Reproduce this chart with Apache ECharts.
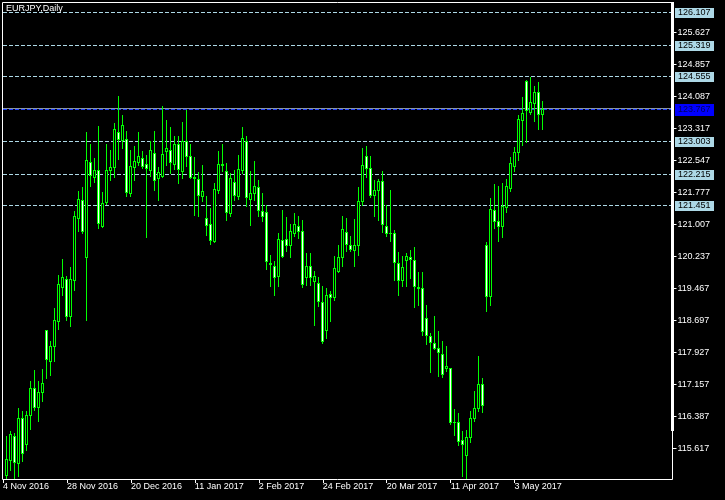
<!DOCTYPE html>
<html>
<head>
<meta charset="utf-8">
<script src="https://cdn.jsdelivr.net/npm/echarts@6/dist/echarts.min.js"></script>
<style>html,body{margin:0;padding:0;background:#000}#chart{width:725px;height:500px}</style>
</head>
<body>
<div id="chart"></div>
<script>
// ---- data ----
const chartTitle = 'EURJPY,Daily';
const startDate = [2016, 10, 4]; // 4 Nov 2016 (first bar slot)
const xTickLabels = ['4 Nov 2016','28 Nov 2016','20 Dec 2016','11 Jan 2017','2 Feb 2017','24 Feb 2017','20 Mar 2017','11 Apr 2017','3 May 2017'];
const yTicks = [125.627,124.857,124.087,123.317,122.547,121.777,121.007,120.237,119.467,118.697,117.927,117.157,116.387,115.617];
const levelLines = [126.107,125.319,124.555,123.003,122.215,121.451];
const bidPrice = 123.767;

const openP = [null,
114.959,115.320,115.898,115.256,116.339,115.713,116.403,117.061,116.595,116.956,
118.464,117.702,118.063,118.681,119.491,119.691,118.785,119.651,121.151,121.592,
120.213,122.499,122.138,122.314,120.951,121.528,122.298,122.378,123.220,123.036,
123.052,121.753,122.370,122.491,122.595,122.450,122.314,122.715,122.114,122.170,
122.755,122.795,122.458,122.940,122.274,122.996,122.651,122.138,122.089,121.688,
121.151,121.007,120.606,121.833,122.458,122.290,121.271,122.017,121.672,122.298,
123.012,121.616,121.753,121.897,121.311,121.295,120.036,119.988,119.747,120.614,
120.646,120.493,120.790,120.967,120.830,119.731,120.004,119.627,119.587,119.130,
118.448,119.322,119.242,119.884,120.205,120.806,120.509,120.389,120.493,121.552,
122.651,122.354,121.696,121.817,122.049,120.967,120.790,120.790,120.068,119.651,
120.132,120.213,120.132,119.491,119.467,118.745,118.320,118.143,118.023,117.879,
117.534,117.542,116.250,116.242,115.817,115.440,115.881,116.339,116.579,117.157,
120.509,119.280,121.351,121.087,120.950,121.407,121.873,122.394,122.731,123.517,
124.455,123.693,123.918,124.183,123.653];
const highP = [null,
115.913,116.034,115.978,116.579,116.499,116.515,117.237,117.502,117.237,117.526,
118.464,118.183,118.986,119.788,120.173,119.763,119.972,121.328,121.809,121.897,
123.212,122.940,122.595,123.357,121.769,122.940,122.795,123.437,124.095,123.637,
123.236,122.795,122.892,123.212,122.771,122.675,123.012,123.252,122.378,123.854,
123.517,123.333,123.132,123.132,123.453,123.742,122.940,122.619,122.250,122.434,
121.672,121.392,121.993,122.755,122.940,122.474,122.234,122.314,122.675,123.333,
123.132,122.274,122.531,122.057,121.753,121.472,120.253,120.108,120.790,121.352,
121.175,121.007,121.271,121.191,121.111,120.309,120.309,119.868,119.731,119.507,
119.467,119.403,120.229,120.509,121.191,121.151,120.726,121.127,121.889,122.835,
122.892,122.635,122.073,122.089,122.274,121.472,121.833,120.854,120.325,120.229,
120.309,120.389,120.453,119.860,119.844,119.066,118.384,118.801,118.440,118.183,
118.079,117.542,116.563,116.467,116.034,116.058,116.515,116.996,117.838,117.301,
120.565,121.633,121.977,121.913,121.993,122.097,122.610,122.859,123.637,124.054,
124.470,124.535,124.335,124.423,123.958];
const lowP = [null,
114.895,115.096,114.895,114.951,115.296,115.561,116.082,116.523,116.258,116.740,
117.301,117.381,117.702,118.488,119.290,118.689,118.544,119.427,120.830,120.800,
118.689,121.913,122.009,120.910,120.930,121.500,122.057,122.130,122.571,122.835,
121.672,121.688,122.057,122.434,122.354,120.686,122.170,121.817,121.576,122.138,
122.434,122.234,122.338,121.993,122.114,122.394,122.114,121.231,121.191,121.552,
120.750,120.533,120.566,121.753,122.274,121.111,121.191,121.592,121.608,122.234,
121.432,120.991,121.576,121.191,121.071,119.932,119.523,119.306,119.507,120.210,
120.349,120.205,120.710,120.670,119.491,119.547,119.547,118.585,119.026,118.150,
118.264,118.665,119.186,119.844,120.004,120.349,120.365,120.004,120.269,121.472,
122.138,121.656,121.191,121.111,120.806,120.710,120.590,119.667,119.306,119.523,
119.523,119.707,119.002,119.066,118.344,118.127,117.437,118.007,117.357,117.317,
117.461,116.202,115.922,115.697,114.935,114.879,115.753,116.258,116.515,116.475,
118.904,119.049,120.910,120.589,120.686,121.287,121.792,122.290,122.554,122.915,
122.971,123.653,123.477,123.300,123.300];
const closeP = [null,
115.352,115.954,115.280,116.339,115.497,116.419,117.061,116.595,116.964,117.181,
117.758,118.079,118.705,119.563,119.731,118.785,119.691,121.191,121.608,120.830,
122.555,122.194,122.314,121.031,121.512,122.314,122.378,123.293,123.052,123.389,
121.769,122.410,122.531,122.651,122.394,122.346,122.795,122.057,122.250,122.691,
122.835,122.491,122.940,122.330,122.996,122.635,122.138,122.114,121.713,121.809,
120.991,120.630,121.857,122.458,122.426,121.287,122.114,121.713,122.330,123.076,
121.648,121.753,121.929,121.336,121.191,120.108,120.068,119.723,120.646,120.229,
120.509,120.846,121.007,120.846,119.563,120.004,119.731,119.747,119.146,118.183,
119.290,119.250,119.948,120.213,120.886,120.525,120.413,120.509,121.568,122.434,
122.354,121.696,121.833,122.049,121.007,120.790,120.782,120.084,119.651,119.972,
120.245,120.165,119.507,119.459,118.424,118.328,118.159,118.023,117.919,117.397,
117.582,116.234,116.234,115.777,115.713,115.881,116.339,116.579,117.157,116.643,
119.265,121.368,121.071,120.950,121.431,121.929,122.474,122.739,123.533,123.677,
123.741,123.934,124.183,123.653,123.767];

// ---- categories (weekday bar slots) ----
const monthNames = ['Jan','Feb','Mar','Apr','May','Jun','Jul','Aug','Sep','Oct','Nov','Dec'];
const totalSlots = 168;
const categories = [];
let d = new Date(Date.UTC(startDate[0], startDate[1], startDate[2]));
while (categories.length < openP.length) {
  const wd = d.getUTCDay();
  if (wd !== 0 && wd !== 6) categories.push(d.getUTCDate() + ' ' + monthNames[d.getUTCMonth()] + ' ' + d.getUTCFullYear());
  d = new Date(d.getTime() + 86400000);
}
while (categories.length < totalSlots) categories.push('');

const candleData = [];
openP.forEach((o, i) => { if (o != null) candleData.push([i, o, closeP[i], lowP[i], highP[i]]); });
const levelData = levelLines.map(v => [0, v, 0]);
levelData.push([0, bidPrice, 1]);

const FONT = 'Liberation Sans';
const GREEN = '#00ff00';
const LIGHTBLUE = '#add8e6';
const showTick = (idx, val) => xTickLabels.indexOf(val) >= 0;

function renderCandle(params, api) {
  const i = api.value(0);
  const o = api.value(1), c = api.value(2), l = api.value(3), h = api.value(4);
  const cx = Math.floor(api.coord([i, o])[0]);
  const row = p => Math.floor(api.coord([i, p])[1] + 0.25);
  const yo = row(o), yc = row(c), yl = row(l), yh = row(h);
  const top = Math.min(yo, yc), bot = Math.max(yo, yc);
  const bull = c >= o;
  const children = [
    { type: 'rect', shape: { x: cx, y: yh, width: 1, height: yl - yh + 1 }, style: { fill: GREEN } },
    { type: 'rect', shape: { x: cx - 1, y: top, width: 3, height: bot - top + 1 }, style: { fill: GREEN } }
  ];
  if (bot - top >= 2) {
    children.push({ type: 'rect', shape: { x: cx, y: top + 1, width: 1, height: bot - top - 1 },
      style: { fill: bull ? '#000000' : '#ffffff' } });
  }
  return { type: 'group', children };
}

function renderLevel(params, api) {
  const v = api.value(1);
  const isBid = api.value(2) === 1;
  const cs = params.coordSys;
  const r = Math.floor(api.coord([0, v])[1]);
  const x0 = cs.x + 2, x1 = cs.x + cs.width;
  const children = [];
  if (isBid) {
    children.push({ type: 'line', shape: { x1: x0, y1: r - 0.5, x2: x1, y2: r - 0.5 },
      style: { stroke: '#8a96a8', lineWidth: 1 } });
    children.push({ type: 'line', shape: { x1: x0, y1: r + 0.5, x2: x1, y2: r + 0.5 },
      style: { stroke: '#1f3fff', lineWidth: 1, lineDash: [4, 2] } });
  } else {
    children.push({ type: 'line', shape: { x1: x0, y1: r + 0.5, x2: x1, y2: r + 0.5 },
      style: { stroke: LIGHTBLUE, lineWidth: 1, lineDash: [4, 2] } });
  }
  const bx = Math.round(x1) + 2;
  children.push({ type: 'rect', shape: { x: bx, y: r - 4 - (isBid ? 1 : 0), width: 39, height: isBid ? 12 : 10 },
    style: { fill: isBid ? '#0000ff' : LIGHTBLUE } });
  children.push({ type: 'text', style: { x: bx + 3, y: r + 1, text: v.toFixed(3), fill: isBid ? '#000060' : '#000000',
    font: '9px ' + FONT, verticalAlign: 'middle', align: 'left' } });
  return { type: 'group', children };
}

const chart = echarts.init(document.getElementById('chart'), null, { renderer: 'canvas' });
chart.setOption({
  backgroundColor: '#000000',
  animation: false,
  title: { text: chartTitle, left: 6, top: 4, padding: 0,
    textStyle: { color: '#ffffff', fontSize: 9, fontWeight: 'normal', fontFamily: FONT } },
  grid: { left: 0.5, right: 52.5, top: 2, bottom: 21 },
  xAxis: {
    type: 'category', data: categories, boundaryGap: true,
    axisLine: { show: false },
    axisTick: { show: true, alignWithLabel: true, interval: showTick, length: 4, lineStyle: { color: '#ffffff' } },
    axisLabel: { show: true, interval: showTick, align: 'left', color: '#ffffff', fontSize: 9, fontFamily: FONT, margin: 3 },
    splitLine: { show: false }
  },
  yAxis: {
    type: 'value', position: 'right', min: 114.878, max: 126.356, scale: true,
    axisLine: { show: false },
    splitLine: { show: false },
    axisTick: { show: true, customValues: yTicks, length: 4, lineStyle: { color: '#ffffff' } },
    axisLabel: { show: true, customValues: yTicks, color: '#ffffff', fontSize: 9, fontFamily: FONT, margin: 5,
      formatter: v => Number(v).toFixed(3) }
  },
  series: [
    {
      type: 'custom', data: levelData, renderItem: renderLevel, clip: false, silent: true, z: 1,
      encode: { x: 0, y: 1 }
    },
    {
      type: 'custom', data: candleData, renderItem: renderCandle, clip: true, silent: true, z: 2,
      encode: { x: 0, y: [1, 2, 3, 4] }
    }
  ],
  graphic: [
    { type: 'rect', z: 100, silent: true, shape: { x: 2.5, y: 2.5, width: 670, height: 477 },
      style: { fill: null, stroke: '#ffffff', lineWidth: 1 } },
    { type: 'line', z: 100, silent: true, shape: { x1: 672.5, y1: 2, x2: 672.5, y2: 431 },
      style: { stroke: '#ffffff', lineWidth: 3 } }
  ]
});
</script>
</body>
</html>
